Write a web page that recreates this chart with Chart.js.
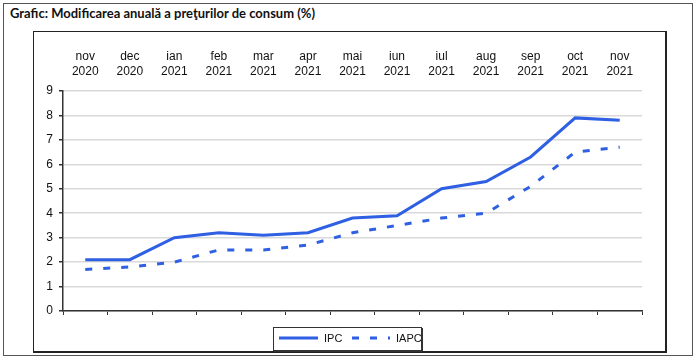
<!DOCTYPE html>
<html>
<head>
<meta charset="utf-8">
<script src="https://cdn.jsdelivr.net/npm/chart.js@4.4.0/dist/chart.umd.min.js"></script>
<style>
  html, body { margin: 0; padding: 0; background: #fff; }
  #wrap { position: relative; width: 700px; height: 360px; overflow: hidden; }
  #outer { position: absolute; left: 3px; top: 3px; width: 688px; height: 351px; border: 1px solid #555; box-sizing: content-box; }
  #inner { position: absolute; left: 33px; top: 31px; width: 631px; height: 319px; border-left: 1px solid #222; border-top: 1px solid #222; border-right: 2px solid #222; border-bottom: 2px solid #222; }
  #title { position: absolute; left: 10px; top: 4px; font: bold 13px Lato, "Open Sans", sans-serif; color: #111; line-height: 18px; background: #fff; padding-right: 2px; }
  canvas { position: absolute; left: 0; top: 0; }
</style>
</head>
<body>
<div id="wrap">
  <div id="outer"></div>
  <div id="inner"></div>
  <div id="title">Grafic: Modificarea anuală a preţurilor de consum (%)</div>
  <canvas id="c" width="700" height="360"></canvas>
</div>
<script>
const months = ['nov','dec','ian','feb','mar','apr','mai','iun','iul','aug','sep','oct','nov'];
const years  = ['2020','2020','2021','2021','2021','2021','2021','2021','2021','2021','2021','2021','2021'];
const ipc  = [2.1, 2.1, 3.0, 3.2, 3.1, 3.2, 3.8, 3.9, 5.0, 5.3, 6.3, 7.9, 7.8];
const iapc = [1.7, 1.8, 2.0, 2.5, 2.5, 2.7, 3.2, 3.5, 3.8, 4.0, 5.1, 6.5, 6.7];
const yTicks = [0,1,2,3,4,5,6,7,8,9];

const labels = months.map((m, i) => [m, years[i]]);
const BLUE = '#2f5fe3';

const legendPlugin = {
  id: 'boxLegend',
  afterDraw(chart) {
    const ctx = chart.ctx;
    const bx = 273, by = 327, bw = 148, bh = 23;
    ctx.save();
    ctx.fillStyle = '#fff';
    ctx.fillRect(bx, by, bw, bh);
    ctx.strokeStyle = '#333';
    ctx.lineWidth = 1;
    ctx.strokeRect(bx + 0.5, by + 0.5, bw, bh);
    ctx.beginPath();
    ctx.moveTo(bx + bw + 1.5, by + 1);
    ctx.lineTo(bx + bw + 1.5, by + bh + 1.5);
    ctx.lineTo(bx + 1, by + bh + 1.5);
    ctx.stroke();
    const items = [
      { ds: chart.data.datasets[0], x0: 279, x1: 318, tx: 324 },
      { ds: chart.data.datasets[1], x0: 352, x1: 390, tx: 396 }
    ];
    const cy = by + 11;
    items.forEach(it => {
      ctx.beginPath();
      ctx.setLineDash(it.ds.borderDash || []);
      ctx.strokeStyle = it.ds.borderColor;
      ctx.lineWidth = it.ds.borderWidth;
      ctx.moveTo(it.x0, cy);
      ctx.lineTo(it.x1, cy);
      ctx.stroke();
      ctx.setLineDash([]);
      ctx.fillStyle = '#111';
      ctx.font = '11px "Liberation Sans", Arial, sans-serif';
      ctx.textBaseline = 'middle';
      ctx.textAlign = 'left';
      ctx.fillText(it.ds.label, it.tx, cy + 1);
    });
    ctx.restore();
  }
};

new Chart(document.getElementById('c'), {
  type: 'line',
  data: {
    labels: labels,
    datasets: [
      { label: 'IPC', data: ipc, borderColor: BLUE, borderWidth: 3, pointRadius: 0, fill: false, tension: 0, xAxisID: 'x', yAxisID: 'y' },
      { label: 'IAPC', data: iapc, borderColor: BLUE, borderWidth: 3, borderDash: [7, 11], pointRadius: 0, fill: false, tension: 0, xAxisID: 'x', yAxisID: 'y' }
    ]
  },
  options: {
    responsive: false,
    animation: false,
    devicePixelRatio: 1,
    layout: { padding: { left: 34, right: 58, top: 31, bottom: 8 } },
    plugins: { legend: { display: false }, tooltip: { enabled: false }, title: { display: false } },
    scales: {
      x: {
        type: 'category',
        position: 'bottom',
        offset: true,
        grid: { offset: true, drawOnChartArea: false, drawTicks: true, tickLength: 4, tickColor: '#333', lineWidth: 1 },
        border: { display: true, color: '#333', width: 1.5 },
        ticks: { display: false },
        afterFit(s) { s.height = 41; }
      },
      x2: {
        type: 'category',
        position: 'top',
        labels: labels,
        offset: true,
        grid: { display: false, drawTicks: false },
        border: { display: false },
        ticks: { color: '#111', font: { family: '"Liberation Sans", Arial, sans-serif', size: 12, lineHeight: 1.25 }, padding: 12, maxRotation: 0, autoSkip: false },
        afterFit(s) { s.height = 60; }
      },
      y: {
        min: 0, max: 9,
        afterBuildTicks(s) { s.ticks = yTicks.map(v => ({ value: v })); },
        grid: { color: '#d9d9d9', lineWidth: 1.5, tickLength: 4, tickColor: '#333', drawTicks: true },
        border: { display: true, color: '#333', width: 1.5 },
        ticks: { color: '#111', padding: 6, font: { family: '"Liberation Sans", Arial, sans-serif', size: 12 } },
        afterFit(s) { s.width = 29; }
      }
    }
  },
  plugins: [legendPlugin]
});
</script>
</body>
</html>
